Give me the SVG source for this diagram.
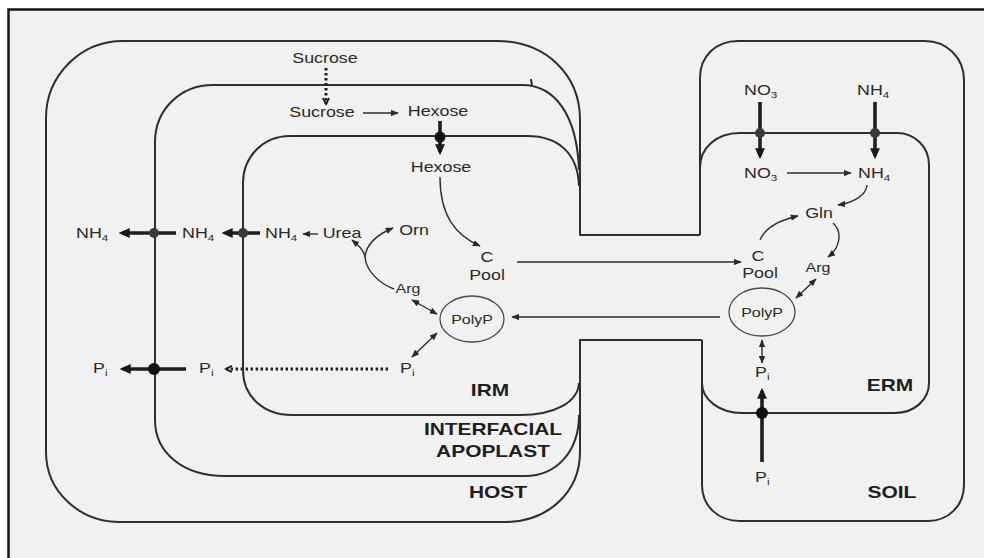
<svg xmlns="http://www.w3.org/2000/svg" width="984" height="558" viewBox="0 0 984 558">
  <style>
    .wall { fill: none; stroke: #2e2e2e; stroke-width: 2; stroke-linejoin: round; }
    .thin { fill: none; stroke: #2e2e2e; stroke-width: 1.4; }
    .thick { fill: none; stroke: #1e1e1e; stroke-width: 3.6; }
    .dots { fill: none; stroke: #1e1e1e; stroke-width: 3; stroke-dasharray: 2.4 2.6; }
    .pore { fill: #3a3a3a; }
    .pore-b { fill: #111; }
    .t { font-family: "Liberation Sans", Arial, Helvetica, sans-serif; font-size: 14.5px; fill: #2a2a2a; }
    .m { text-anchor: middle; }
    .b { font-weight: bold; font-size: 17px; fill: #1e1e1e; }
    .p { font-size: 13px; }
    .sub { font-size: 9.5px; }
    .ring { fill: none; stroke: #4a4a4a; stroke-width: 1.3; }
  </style>
  <defs>
    <marker id="ah" viewBox="0 0 10 8" refX="9" refY="4" markerWidth="8" markerHeight="6.4" markerUnits="userSpaceOnUse" orient="auto-start-reverse">
      <path d="M0,0 L10,4 L0,8 z" fill="#2a2a2a"/>
    </marker>
    <marker id="ahb" viewBox="0 0 10 9" refX="7" refY="4.5" markerWidth="11" markerHeight="10" markerUnits="userSpaceOnUse" orient="auto">
      <path d="M0,0 L10,4.5 L0,9 z" fill="#1a1a1a"/>
    </marker>
    <marker id="chev" viewBox="0 0 10 10" refX="8" refY="5" markerWidth="9" markerHeight="9" markerUnits="userSpaceOnUse" orient="auto">
      <path d="M1.5,1.5 L8,5 L1.5,8.5" fill="none" stroke="#1a1a1a" stroke-width="2"/>
    </marker>
  </defs>

  <!-- page and frame -->
  <rect x="0" y="0" width="984" height="558" fill="#ffffff"/>
  <rect x="8.5" y="9.5" width="1000" height="600" fill="#f1f1f1" stroke="#151515" stroke-width="2.5"/>

  <!-- compartments -->
  <g id="host">
    <path class="wall" d="M580,235 L580,120 C580,74 545,41 497,41 L123,41 C80,41 46,76 46,118 L46,452 C46,492 80,522 120,522 L505,522 C548,522 580,492 580,452 L580,340"/>
    <text class="t b m" transform="translate(498 498) scale(1.23 1)">HOST</text>
  </g>
  <g id="apoplast">
    <path class="wall" d="M579,170 C577,115 555,85 522,85 L213,85 C180,85 155,110 155,142 L155,420 C155,452 182,476 225,476 L525,476 C556,476 579,452 579,415"/>
    <path class="wall" stroke-width="1.5" d="M531,79 L532,86"/>
    <text class="t b m" transform="translate(493 435) scale(1.23 1)">INTERFACIAL</text>
    <text class="t b m" transform="translate(493 457) scale(1.23 1)">APOPLAST</text>
  </g>
  <g id="irm">
    <path class="wall" d="M579,186 C578,155 560,136 527,136 L290,136 C263,136 243,157 243,183 L243,370 C243,396 263,415 292,415 L520,415 C555,415 578,402 579,383"/>
    <text class="t b m" transform="translate(490 396) scale(1.23 1)">IRM</text>
  </g>
  <g id="hypha">
    <path class="wall" stroke-width="2.6" d="M580,120 L580,235 L700,235"/>
    <path class="wall" stroke-width="2.6" d="M580,452 L580,340 L702,340"/>
  </g>
  <g id="soil">
    <path class="wall" d="M700,235 L700,78 C700,56 716,41 738,41 L925,41 C947,41 964,58 964,80 L964,485 C964,506 948,521 928,521 L740,521 C718,521 702,506 702,485 L702,340"/>
    <path class="wall" stroke-width="2.6" d="M700,235 L700,160 M702,340 L702,390"/>
    <text class="t b m" transform="translate(892 498) scale(1.23 1)">SOIL</text>
  </g>
  <g id="erm">
    <path class="wall" d="M700,168 C700,148 716,133 740,133 L897,133 C915,133 929,147 929,165 L929,383 C929,400 914,413 895,413 L742,413 C720,413 702,400 702,383"/>
    <text class="t b m" transform="translate(890 391) scale(1.23 1)">ERM</text>
  </g>

  <!-- metabolite labels -->
  <g id="sucrose-host"><text class="t m" transform="translate(325 63) scale(1.23 1)">Sucrose</text></g>
  <g id="sucrose-apoplast"><text class="t m" transform="translate(322 117) scale(1.23 1)">Sucrose</text></g>
  <g id="hexose-apoplast"><text class="t m" transform="translate(438 116) scale(1.23 1)">Hexose</text></g>
  <g id="hexose-irm"><text class="t m" transform="translate(441 172) scale(1.23 1)">Hexose</text></g>
  <g id="cpool-irm">
    <text class="t m" transform="translate(487 262) scale(1.23 1)">C</text>
    <text class="t m" transform="translate(487 280) scale(1.23 1)">Pool</text>
  </g>
  <g id="cpool-erm">
    <text class="t m" transform="translate(758 261) scale(1.23 1)">C</text>
    <text class="t m" transform="translate(760 278) scale(1.23 1)">Pool</text>
  </g>
  <g id="polyp-irm">
    <ellipse class="ring" cx="472" cy="319" rx="32" ry="23"/>
    <text class="t p m" transform="translate(472 324) scale(1.23 1)">PolyP</text>
  </g>
  <g id="polyp-erm">
    <ellipse class="ring" cx="762" cy="312" rx="33" ry="24"/>
    <text class="t p m" transform="translate(762 317) scale(1.23 1)">PolyP</text>
  </g>
  <g id="arg-irm"><text class="t p m" transform="translate(408 293) scale(1.23 1)">Arg</text></g>
  <g id="orn-irm"><text class="t m" transform="translate(414 235) scale(1.23 1)">Orn</text></g>
  <g id="urea-irm"><text class="t m" transform="translate(342 238) scale(1.23 1)">Urea</text></g>
  <g id="nh4-irm"><text class="t" transform="translate(265 238) scale(1.23 1)">NH<tspan class="sub" dy="3">4</tspan></text></g>
  <g id="nh4-apoplast"><text class="t" transform="translate(182 238) scale(1.23 1)">NH<tspan class="sub" dy="3">4</tspan></text></g>
  <g id="nh4-host"><text class="t" transform="translate(76 238) scale(1.23 1)">NH<tspan class="sub" dy="3">4</tspan></text></g>
  <g id="pi-irm"><text class="t" transform="translate(400 373) scale(1.23 1)">P<tspan class="sub" dy="3">i</tspan></text></g>
  <g id="pi-apoplast"><text class="t" transform="translate(199 373) scale(1.23 1)">P<tspan class="sub" dy="3">i</tspan></text></g>
  <g id="pi-host"><text class="t" transform="translate(93 373) scale(1.23 1)">P<tspan class="sub" dy="3">i</tspan></text></g>
  <g id="no3-soil"><text class="t" transform="translate(744 95) scale(1.23 1)">NO<tspan class="sub" dy="3">3</tspan></text></g>
  <g id="nh4-soil"><text class="t" transform="translate(857 95) scale(1.23 1)">NH<tspan class="sub" dy="3">4</tspan></text></g>
  <g id="no3-erm"><text class="t" transform="translate(744 178) scale(1.23 1)">NO<tspan class="sub" dy="3">3</tspan></text></g>
  <g id="nh4-erm"><text class="t" transform="translate(858 178) scale(1.23 1)">NH<tspan class="sub" dy="3">4</tspan></text></g>
  <g id="gln-erm"><text class="t m" transform="translate(819 218) scale(1.23 1)">Gln</text></g>
  <g id="arg-erm"><text class="t p m" transform="translate(818 272) scale(1.23 1)">Arg</text></g>
  <g id="pi-erm"><text class="t" transform="translate(755 377) scale(1.23 1)">P<tspan class="sub" dy="3">i</tspan></text></g>
  <g id="pi-soil"><text class="t" transform="translate(755 482) scale(1.23 1)">P<tspan class="sub" dy="3">i</tspan></text></g>

  <!-- fluxes -->
  <g id="connectors">
    <path class="dots" marker-end="url(#chev)" d="M326,68 L326,104"/>
    <path class="thin" marker-end="url(#ah)" d="M363,113 L398,113"/>
    <path class="thick" marker-end="url(#ahb)" d="M440,121 L440,152"/>
    <path class="thin" marker-end="url(#ah)" d="M440,177 C440,215 455,235 480,246"/>
    <path class="thin" marker-end="url(#ah)" d="M517,262 L741,262"/>
    <path class="thin" marker-end="url(#ah)" d="M720,317 L512,317"/>
    <path class="thin" marker-start="url(#ah)" marker-end="url(#ah)" d="M412,300 L437,314"/>
    <path class="thin" marker-start="url(#ah)" marker-end="url(#ah)" d="M412,357 L437,333"/>
    <path class="thin" marker-end="url(#ah)" d="M394,289 C378,283 366,270 365,257 C364,250 358,245 352,240"/>
    <path class="thin" marker-end="url(#ah)" d="M365,257 C366,244 378,234 393,228"/>
    <path class="thin" marker-end="url(#ah)" d="M318,234 L303,234"/>
    <path class="thick" marker-end="url(#ahb)" d="M260,233 L225,233"/>
    <path class="thick" marker-end="url(#ahb)" d="M176,233 L122,233"/>
    <path class="dots" marker-end="url(#chev)" d="M388,369 L226,369"/>
    <path class="thick" marker-end="url(#ahb)" d="M186,369 L123,369"/>
    <path class="thick" marker-end="url(#ahb)" d="M760,102 L760,156"/>
    <path class="thick" marker-end="url(#ahb)" d="M875,102 L875,156"/>
    <path class="thin" marker-end="url(#ah)" d="M787,173 L851,173"/>
    <path class="thin" marker-end="url(#ah)" d="M867,185 C866,196 852,203 838,205"/>
    <path class="thin" marker-end="url(#ah)" d="M760,240 C765,228 780,220 798,216"/>
    <path class="thin" marker-end="url(#ah)" d="M833,223 C843,232 840,248 828,257"/>
    <path class="thin" marker-start="url(#ah)" marker-end="url(#ah)" d="M816,279 L796,298"/>
    <path class="thin" stroke-width="1.8" marker-start="url(#ah)" marker-end="url(#ah)" d="M762,340 L762,363"/>
    <path class="thick" marker-end="url(#ahb)" d="M762,462 L762,391"/>
    <circle class="pore-b" cx="440" cy="137" r="5.5"/>
    <circle class="pore" cx="243" cy="233" r="5"/>
    <circle class="pore" cx="154" cy="233" r="5"/>
    <circle class="pore-b" cx="154" cy="369" r="6"/>
    <circle class="pore" cx="760" cy="133" r="5"/>
    <circle class="pore" cx="875" cy="133" r="5"/>
    <circle class="pore-b" cx="762" cy="413" r="6"/>
  </g>
</svg>
